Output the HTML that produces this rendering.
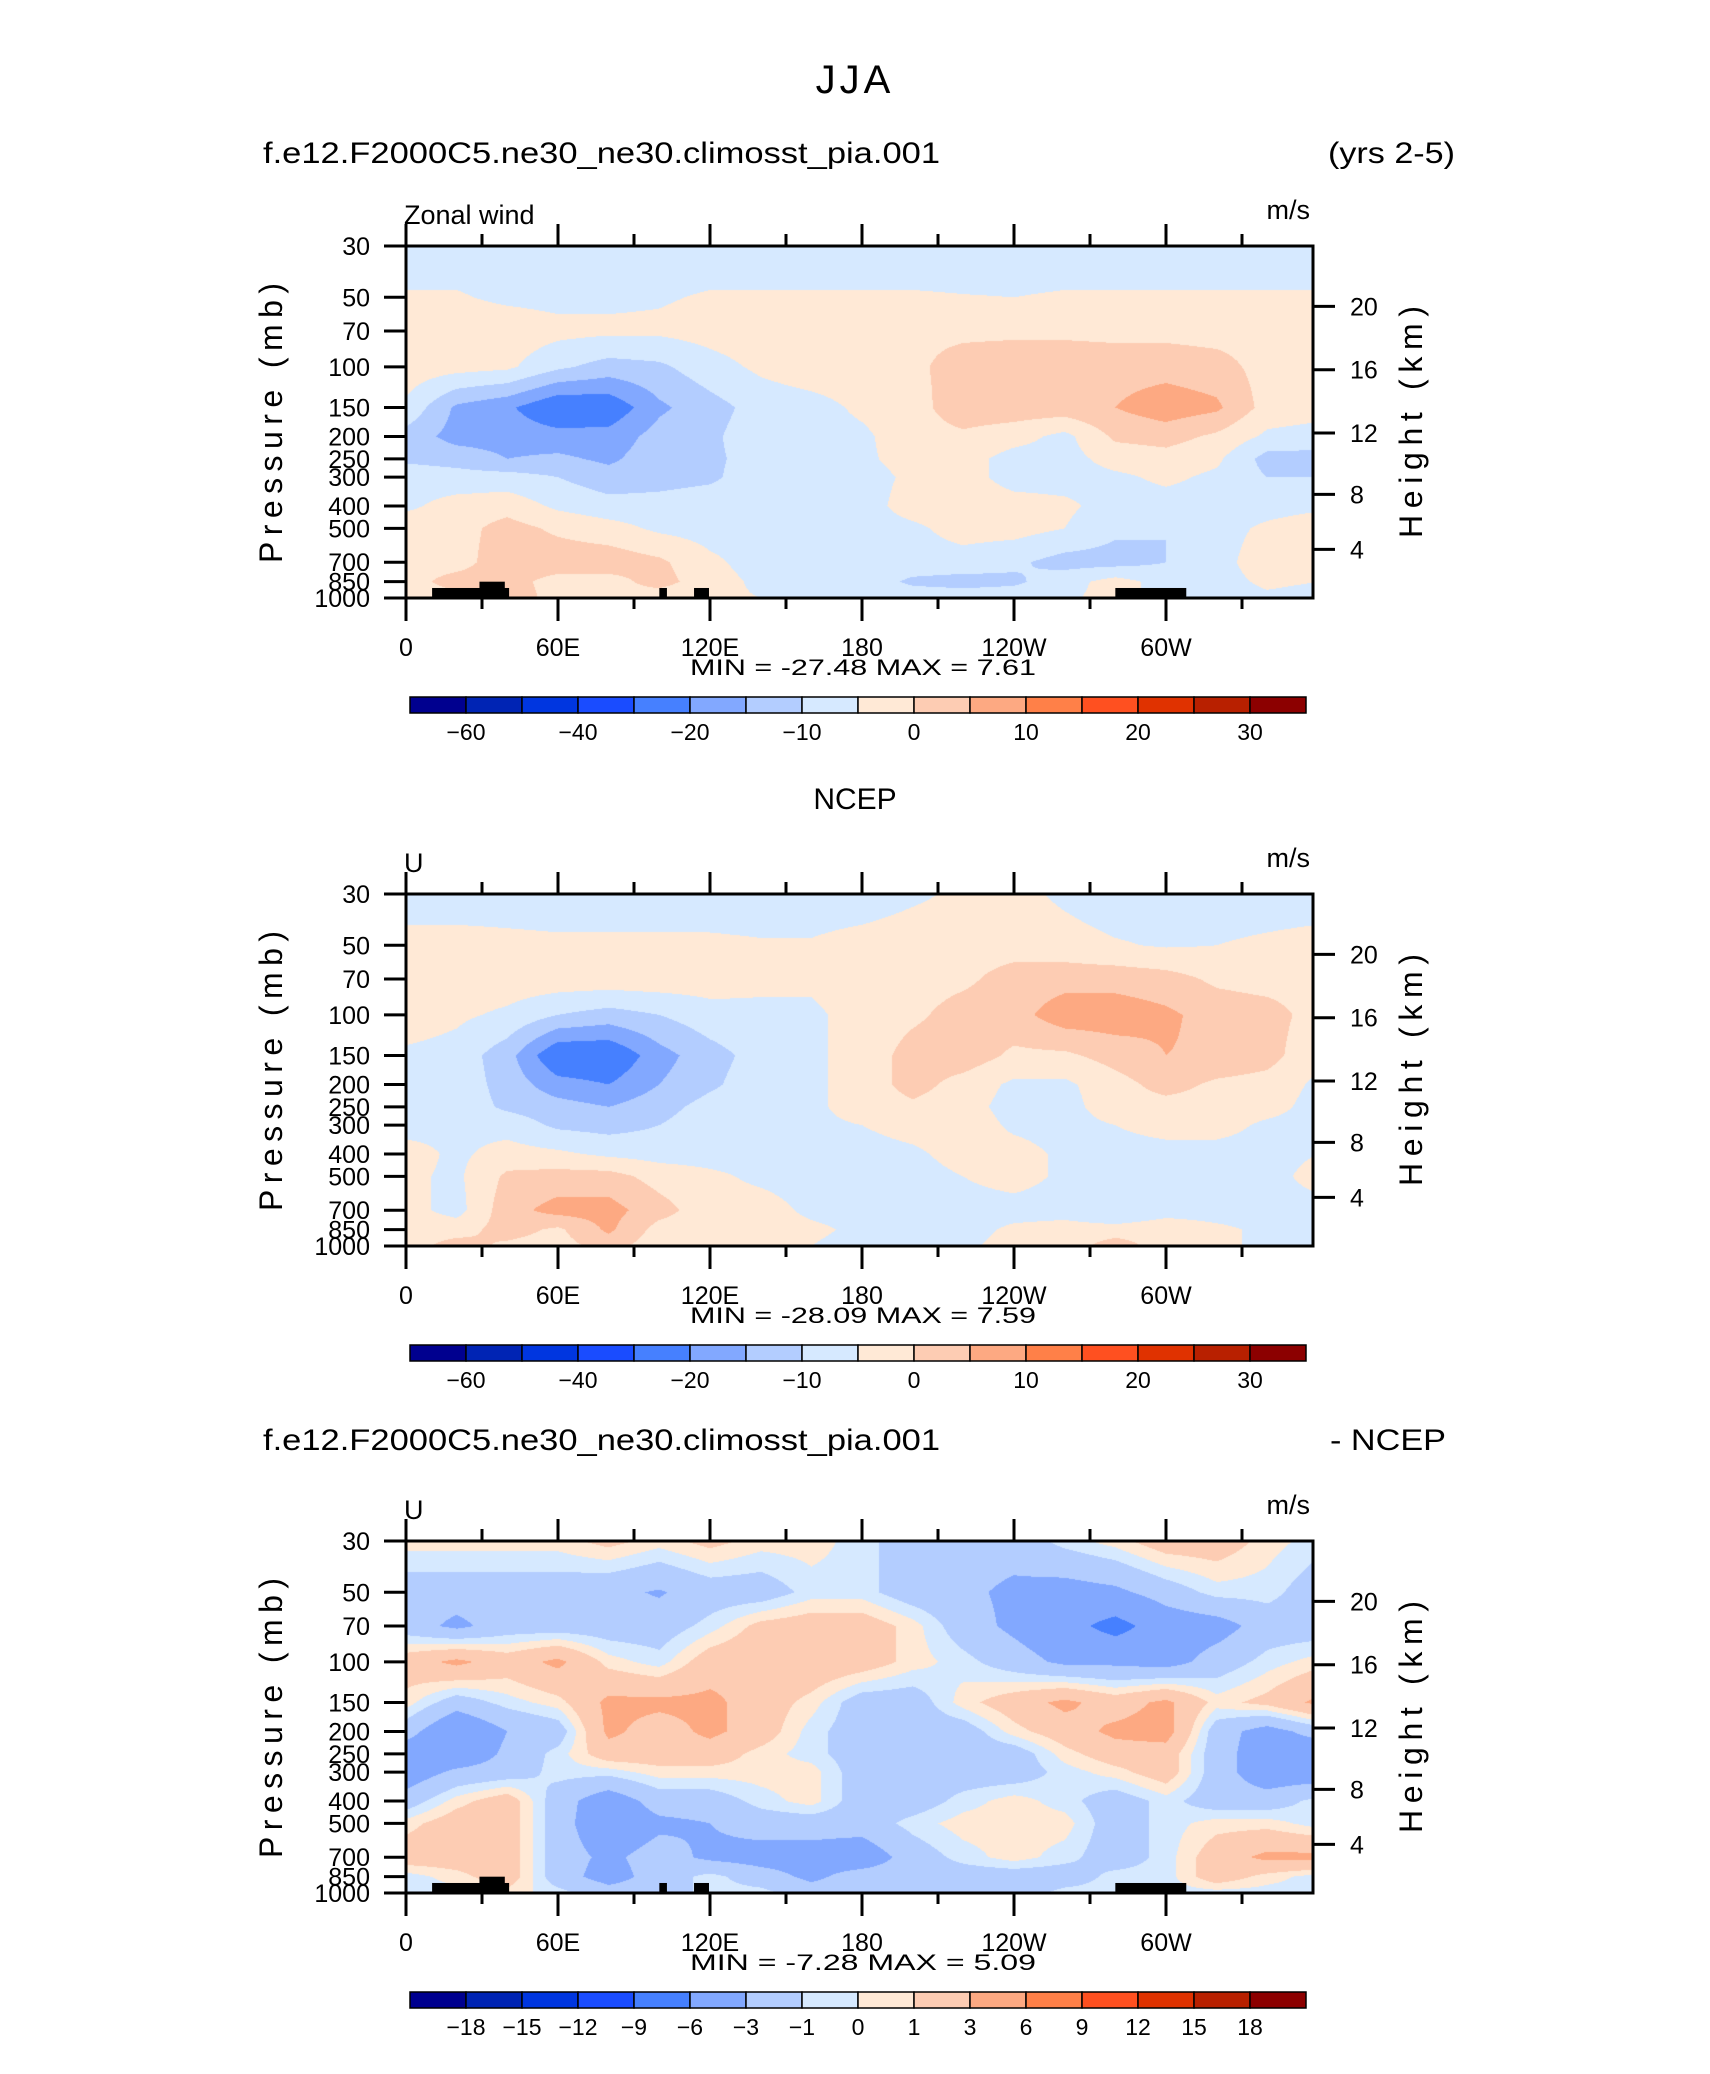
<!DOCTYPE html>
<html><head><meta charset="utf-8">
<style>
html,body{margin:0;padding:0;background:#fff;}
#wrap{position:relative;width:1710px;height:2074px;overflow:hidden;}
canvas{position:absolute;}
svg{position:absolute;left:0;top:0;}
text{font-family:"Liberation Sans",sans-serif;fill:#000;}
</style></head>
<body>
<div id="wrap">
<canvas id="c0" width="907" height="352" style="left:406px;top:246px"></canvas>
<canvas id="c1" width="907" height="352" style="left:406px;top:894px"></canvas>
<canvas id="c2" width="907" height="352" style="left:406px;top:1541px"></canvas>
<svg id="s" width="1710" height="2074"></svg>
</div>
<script>
const LONS=[0,20,40,60,80,100,120,140,160,180,200,220,240,260,280,300,320,340,360];
const LEVS=[30,50,70,100,150,200,250,300,400,500,700,850,1000];
const P1=[
[-8,-8,-8,-8,-8,-8,-8,-8,-8,-8,-8,-8,-8,-8,-8,-8,-8,-8,-8],
[-4.5,-4.5,-6,-6.5,-6,-5.5,-4.5,-4.5,-4.5,-4.5,-4.5,-4.8,-5,-4.5,-4.5,-4.5,-4.5,-4.5,-4.5],
[-2,-2,-2,-3.5,-4,-4,-3,-2,-2,-2,-1,-1,-1,-1,-1.5,-1.5,-2,-2,-2],
[-2,-3,-4,-9,-12,-11,-7,-4,-2,-2,-1,2,3,3,3,3,2,-2,-2],
[-6,-16,-19,-25,-24,-16,-12,-8,-7,-4,-2,3,3,3,5,8,6,-2,-3],
[-12,-17,-17,-18,-18,-13,-11,-7,-7,-6,-2,-1,-3,-6.5,1,2,-1,-6,-7],
[-11,-12,-15,-14,-16,-12,-11,-8,-7,-6,-3,-3,-7,-7,-3,-2,-4,-12,-12],
[-7,-8,-8,-10,-13,-12,-11,-7,-7,-7,-4,-3,-7,-7,-6,-4,-6,-10,-10],
[-6,-3,-2,-6,-8,-8,-7,-7,-7,-7,-3,-2,-3,-4,-7,-7,-7,-7,-6],
[-2,-2,2,-1,-3,-6,-7,-7,-7,-7,-6,-3,-3,-5,-9,-10,-7,-4,-2],
[-2,-2,3,3,3,1,-4,-7,-7,-7,-7,-7,-9,-12,-12,-10,-7,-2,-2],
[-2,2,2,-2,-2,2,-3,-6,-7,-7,-11,-12,-11,-7,-3,-7,-7,-4,-5],
[-2,-2,3,-2,-1,-3,-4,-5,-7,-7,-7,-7,-7,-6,-3,-7,-7,-6,-7]];
const P2=[
[-8,-8,-8,-8,-8,-8,-8,-8,-8,-8,-6,-4,-3.5,-6,-8,-8,-8,-8,-8],
[-3,-3,-3.5,-4,-4,-4,-4,-4.5,-4.5,-3,-2,-2,-2,-3,-4.5,-5.5,-5,-4,-3],
[-2,-2,-2,-2,-2,-2,-2.5,-4,-4,-2,-2,-1,2,3,3,2,-1,-2,-2],
[-2,-4,-6,-10,-12,-10,-7,-6,-6,-3,-1,2,3,8,8,6,3,2,-2],
[-6,-7,-13,-25,-25,-17,-12,-8,-6,-3,2,3,-1,-1,2,5,4,2,-4],
[-7,-7,-12,-18,-20,-15,-11,-7,-6,-3,2,-2,-6,-6,-2,2,-1,-2,-6],
[-7,-7,-11,-13,-15,-12,-8,-7,-6,-3,-1,-3,-7,-7,-2,-2,-2,-3,-7],
[-7,-6,-7,-11,-12,-10,-7,-7,-6,-5,-3,-2,-6,-7,-5,-3,-3,-6,-7],
[-3,-6,-3,-4,-6,-7,-7,-7,-7,-7,-6,-3,-3,-6,-7,-7,-7,-7,-5],
[-4,-6,1,2,2,-2,-4,-6,-7,-7,-7,-5,-3,-6,-7,-7,-7,-7,-3],
[-3,-7,3,7,7,2,-3,-3,-6,-7,-7,-7,-7,-7,-10,-7,-7,-7,-7],
[-2,-2,2,-1,6,-2,-3,-3,-4,-6,-7,-7,-4,-3,-3,-2,-4,-6,-7],
[-2,2,-1,-2,2,-3,-3,-3,-5,-7,-7,-6,-3,-3,3,-3,-4,-6,-7]];
const P3=[
[0.5,0.5,0.5,0.5,1.5,0.5,1.5,0.5,0.5,-0.5,-2,-2,-2,-0.5,0.5,2,2,0.5,-0.5],
[-2,-2,-2,-2,-2.5,-3.2,-2,-2,-0.5,-0.5,-2,-2.5,-3.5,-4,-3.5,-2,-0.5,-0.5,-2],
[-2,-3.5,-2,-2,-2,-2,-0.5,1.5,2,2,0.5,-2,-3.5,-5,-7,-4.5,-4,-2,-2],
[2,3.5,2,3.5,0.5,-0.5,2,2.5,2.5,2,0.5,-0.5,-2,-3.5,-3.5,-4,-2,-0.5,0.5],
[0.5,-2,-0.5,0.5,3.5,3.5,3.5,2,0.5,-2,-2,0.5,2,3.5,2,3.5,0.5,1.5,3.5],
[-2,-5.5,-3,-2,3.5,2,3.5,2,-0.5,-2,-2,-2,0.5,2,3.5,4,-2,-4,-2],
[-4.5,-5,-2.5,-0.5,2,2,2,0.5,-0.5,-2,-2,-2,-2,0.5,2,2,-2,-4.5,-5],
[-4.5,-2.5,-2,-0.5,-0.5,0.5,0.5,0.5,0.5,-2,-2,-2,-2,-0.5,0.5,2,-2,-4.5,-4.5],
[-2,0.5,2,-2,-4.5,-2,-2,-0.5,0.5,-2,-2,-0.5,0.5,-0.5,-2,-0.5,-2,-2,-0.5],
[0.5,2,2,-2,-5,-3.5,-3,-2,-2,-2,-0.5,0.5,0.5,0.5,-2,-0.5,0.5,0.5,-0.5],
[2,2,2,-2,-3.5,-2,-3.5,-4,-4,-4.5,-2,-0.5,0.5,-0.5,-2,-0.5,2,3.5,3.5],
[-0.5,0.5,2,-2,-4,-2,-0.5,-2,-3.5,-2,-2,-2,-2,-2,-0.5,-0.5,2,0.5,-0.5],
[-0.5,-0.5,0.5,-0.5,-2,-2,-0.5,-0.5,-2,-2,-2,-2,-2,-0.5,-0.5,-0.5,-0.5,-0.5,-0.5]];
const LEVELS_A=[-60,-50,-40,-30,-20,-15,-10,-5,0,5,10,15,20,25,30];
const LABELS_A=["-60","","-40","","-20","","-10","","0","","10","","20","","30"];
const LEVELS_B=[-18,-15,-12,-9,-6,-3,-1,0,1,3,6,9,12,15,18];
const LABELS_B=["-18","-15","-12","-9","-6","-3","-1","0","1","3","6","9","12","15","18"];
const COLORS=["#00008f","#0024b4","#0036e0","#1a4cff","#4680ff","#82a8ff","#b3cdff","#d6e9ff","#ffe9d6","#fdccb3","#fda982","#ff8048","#ff5020","#e03200","#b82000","#8c0000"];
const TOPO_LON0=[10.3,29,100,113.7,280];
const TOPO_LON1=[40.7,39,103,119.6,308];
const TOPO_P=[905,850,905,905,905];
const HEIGHTS=[4,8,12,16,20];
const XTICKS=[0,60,120,180,240,300];
const XLABELS=["0","60E","120E","180","120W","60W"];
const PTICKS=[30,50,70,100,150,200,250,300,400,500,700,850,1000];
const MINMAX=[["-27.48","7.61"],["-28.09","7.59"],["-7.28","5.09"]];

const L=406,W=912,H=352,PW=907;
const TOPS=[246,894,1541];
function xOf(lon){return lon/360*W;}
function yOf(p){return Math.log(p/30)/Math.log(1000/30)*H;}
function pOfZ(z){const m=z*1000;return m<=11000?1013.25*Math.pow(1-2.2558e-5*m,5.256):226.3*Math.exp(-(m-11000)/6341.6);}
function colorIdx(v,lev){let i=0;while(i<lev.length&&v>=lev[i])i++;return i;}
function hex(c){return [parseInt(c.slice(1,3),16),parseInt(c.slice(3,5),16),parseInt(c.slice(5,7),16)];}
const RGB=COLORS.map(hex);

function drawField(id,grid,lev){
  const cv=document.getElementById(id),ctx=cv.getContext('2d');
  const img=ctx.createImageData(PW,H),d=img.data;
  const ly=LEVS.map(yOf);
  const nl=LONS.length;
  for(let y=0;y<H;y++){
    const yy=y+0.5;let k=0;while(k<ly.length-2&&yy>ly[k+1])k++;
    const ty=Math.min(1,Math.max(0,(yy-ly[k])/(ly[k+1]-ly[k])));
    for(let x=0;x<PW;x++){
      const fl=(x+0.5)/W*(LONS[nl-1]-LONS[0])/(LONS[1]-LONS[0]);
      let i=Math.min(nl-2,Math.floor(fl));const tx=fl-i;
      const v=(grid[k][i]*(1-tx)+grid[k][i+1]*tx)*(1-ty)+(grid[k+1][i]*(1-tx)+grid[k+1][i+1]*tx)*ty;
      const c=RGB[colorIdx(v,lev)];const o=(y*PW+x)*4;
      d[o]=c[0];d[o+1]=c[1];d[o+2]=c[2];d[o+3]=255;
    }
  }
  ctx.putImageData(img,0,0);
}
drawField('c0',P1,LEVELS_A);
drawField('c1',P2,LEVELS_A);
drawField('c2',P3,LEVELS_B);

const S=document.getElementById('s'),NS="http://www.w3.org/2000/svg";
function mk(tag,attrs,txt){const e=document.createElementNS(NS,tag);for(const k in attrs)e.setAttribute(k,attrs[k]);if(txt!==undefined)e.textContent=txt;S.appendChild(e);return e;}
function line(x1,y1,x2,y2,w){return mk('line',{x1:x1,y1:y1,x2:x2,y2:y2,stroke:'#000','stroke-width':w||3});}
let e;
e=mk('text',{x:855,y:93,'font-size':40,'text-anchor':'middle','letter-spacing':4},'JJA');


e=mk('text',{x:263,y:163,'font-size':30,textLength:677,lengthAdjust:'spacingAndGlyphs'},'f.e12.F2000C5.ne30_ne30.climosst_pia.001');


e=mk('text',{x:1328,y:163,'font-size':30,textLength:127,lengthAdjust:'spacingAndGlyphs'},'(yrs 2-5)');


e=mk('text',{x:855,y:809,'font-size':30,'text-anchor':'middle'},'NCEP');


e=mk('text',{x:263,y:1450,'font-size':30,textLength:677,lengthAdjust:'spacingAndGlyphs'},'f.e12.F2000C5.ne30_ne30.climosst_pia.001');


e=mk('text',{x:1330,y:1450,'font-size':30,textLength:116,lengthAdjust:'spacingAndGlyphs'},'- NCEP');



const LEFTTXT=['Zonal wind','U','U'];
for(let pi=0;pi<3;pi++){
  const T=TOPS[pi],lev=pi==2?LEVELS_B:LEVELS_A,labs=pi==2?LABELS_B:LABELS_A;
  if(pi!==1){for(let j=0;j<TOPO_LON0.length;j++){
    const x0=L+xOf(TOPO_LON0[j]),x1=L+xOf(TOPO_LON1[j]),yt=T+yOf(TOPO_P[j]);
    e=mk('rect',{x:x0,y:yt,width:x1-x0,height:T+H-yt,fill:'#000'});
    
    
  }}
  e=mk('rect',{x:L,y:T,width:PW,height:H,fill:'none',stroke:'#000','stroke-width':3});
  
  
  e=mk('text',{x:L-2,y:T-22,'font-size':27},LEFTTXT[pi]);
  
  
  e=mk('text',{x:1310,y:T-27,'font-size':27,'text-anchor':'end'},'m/s');
  
  
  for(let lon=0;lon<360;lon+=30){
    const x=L+xOf(lon),maj=lon%60===0;
    e=line(x,T,x,T-(maj?22:12),3);
    
    
    e=line(x,T+H,x,T+H+(maj?23:11),3);
    
    
  }
  for(let j=0;j<XTICKS.length;j++){
    e=mk('text',{x:L+xOf(XTICKS[j]),y:T+H+58,'font-size':25,'text-anchor':'middle'},XLABELS[j]);
    
    
  }
  for(const p of PTICKS){
    const y=T+yOf(p);
    e=line(L-22,y,L,y,3);
    
    
    e=mk('text',{x:370,y:y+9,'font-size':25,'text-anchor':'end'},String(p));
    
    
  }
  for(const z of HEIGHTS){
    const y=T+yOf(pOfZ(z));
    e=line(L+PW,y,L+PW+22,y,3);
    
    
    e=mk('text',{x:1350,y:y+9,'font-size':25},String(z));
    
    
  }
  e=mk('text',{x:0,y:0,'font-size':32,'text-anchor':'middle',textLength:280,lengthAdjust:'spacing',transform:'translate(282,'+(T+177)+') rotate(-90)'},'Pressure (mb)');
  
  
  e=mk('text',{x:0,y:0,'font-size':32,'text-anchor':'middle',textLength:232,lengthAdjust:'spacing',transform:'translate(1422,'+(T+176)+') rotate(-90)'},'Height (km)');
  
  
  e=mk('text',{x:690,y:T+429,'font-size':22,textLength:346,lengthAdjust:'spacingAndGlyphs','xml:space':'preserve'},'MIN = '+MINMAX[pi][0]+'   MAX =    '+MINMAX[pi][1]);
  
  
  const cbx=410,cbw=(1306-410)/16,cby=T+451;
  for(let k=0;k<16;k++){
    e=mk('rect',{x:cbx+k*cbw,y:cby,width:cbw,height:16,fill:COLORS[k],stroke:'#000','stroke-width':1.5});
    
    
  }
  for(let k=0;k<lev.length;k++){
    if(!labs[k])continue;
    e=mk('text',{x:cbx+(k+1)*cbw,y:cby+43,'font-size':23,'text-anchor':'middle'},labs[k].replace('-','\u2212'));
    
    
  }
}
</script>
</body></html>
